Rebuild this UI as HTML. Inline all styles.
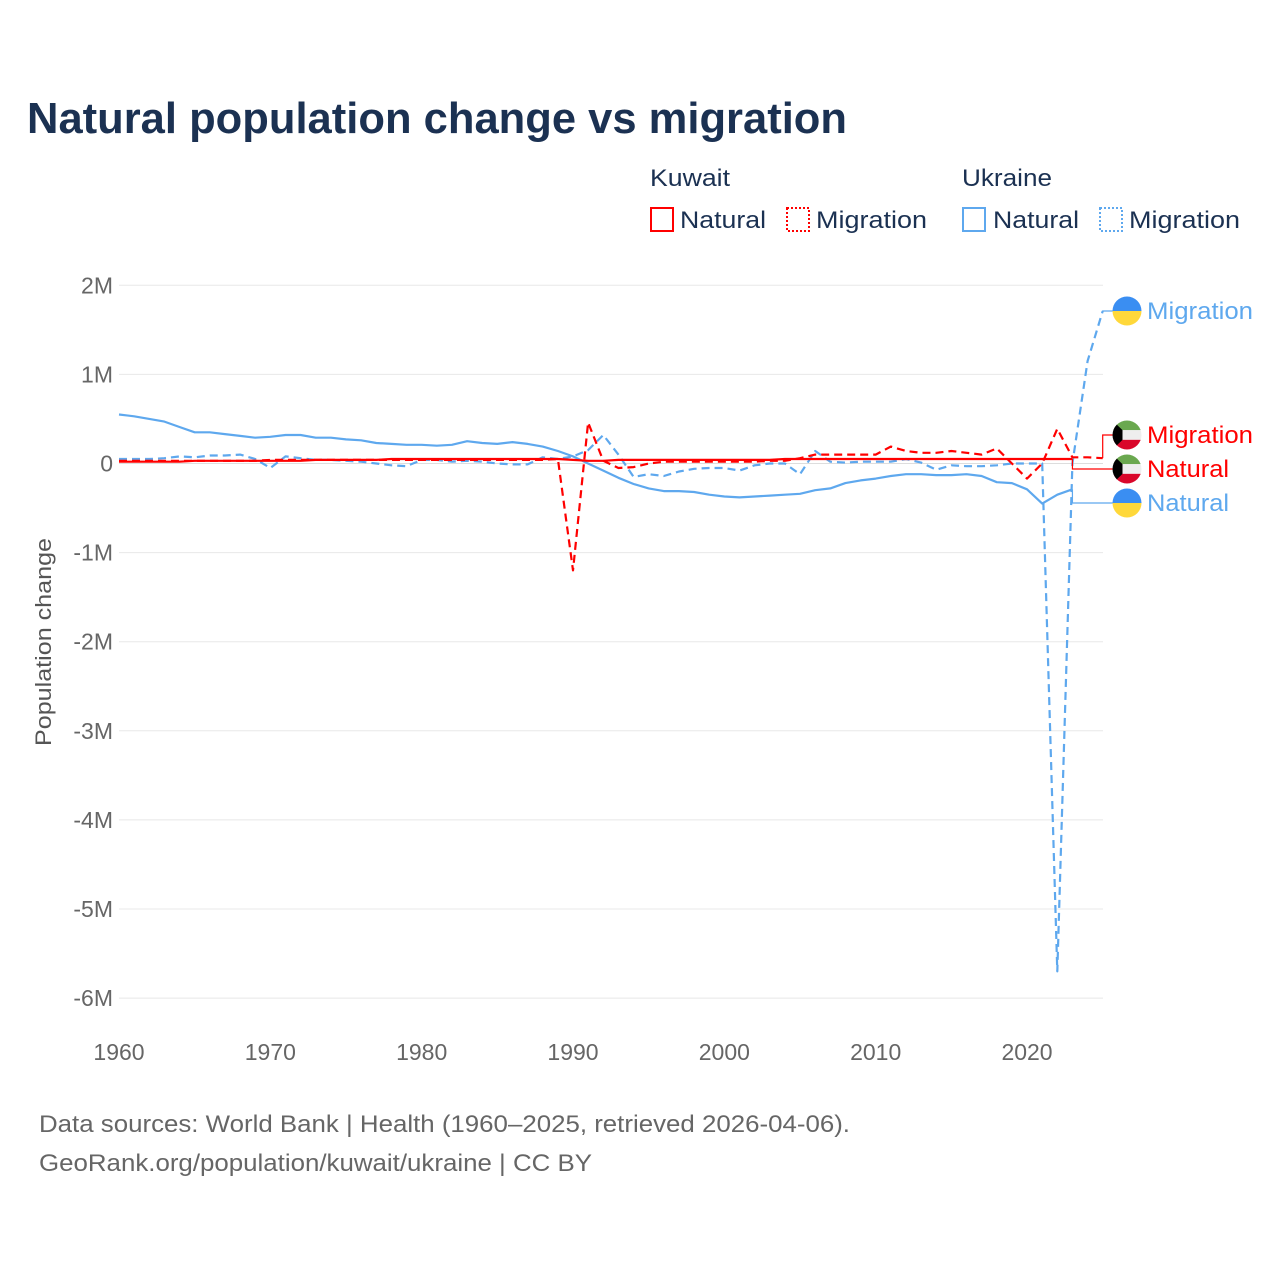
<!DOCTYPE html>
<html><head><meta charset="utf-8">
<style>
body{margin:0;background:#fff;width:1280px;height:1280px;overflow:hidden;font-family:"Liberation Sans",sans-serif;}
svg text{font-family:"Liberation Sans",sans-serif;}
</style></head>
<body>
<svg id="chart" width="1280" height="1280" viewBox="0 0 1280 1280">
<text x="27" y="133" font-size="44" font-weight="bold" fill="#1b3152" textLength="820" lengthAdjust="spacingAndGlyphs">Natural population change vs migration</text>
<g font-size="24" fill="#1b3152">
<text x="650" y="186" fill="#1b3152" textLength="80" lengthAdjust="spacingAndGlyphs">Kuwait</text>
<text x="962" y="186" fill="#1b3152" textLength="90" lengthAdjust="spacingAndGlyphs">Ukraine</text>
<g><rect x="651" y="208" width="22" height="23" fill="none" stroke="#f00" stroke-width="2"/><text x="680" y="228" fill="#1b3152" textLength="86" lengthAdjust="spacingAndGlyphs">Natural</text></g>
<g><rect x="787" y="208" width="22" height="23" fill="none" stroke="#f00" stroke-width="2" stroke-dasharray="2,2"/><text x="816" y="228" fill="#1b3152" textLength="111" lengthAdjust="spacingAndGlyphs">Migration</text></g>
<g><rect x="963" y="208" width="22" height="23" fill="none" stroke="#5ea8ee" stroke-width="2"/><text x="993" y="228" fill="#1b3152" textLength="86" lengthAdjust="spacingAndGlyphs">Natural</text></g>
<g><rect x="1100" y="208" width="22" height="23" fill="none" stroke="#5ea8ee" stroke-width="2" stroke-dasharray="2,2"/><text x="1129" y="228" fill="#1b3152" textLength="111" lengthAdjust="spacingAndGlyphs">Migration</text></g>
</g>
<g id="grid"></g>
<g id="series"></g>
<g id="labels"></g>
<text transform="translate(51,642) rotate(-90)" text-anchor="middle" font-size="22" fill="#555" textLength="208" lengthAdjust="spacingAndGlyphs">Population change</text>
<text x="39" y="1132" font-size="24" fill="#666" textLength="811" lengthAdjust="spacingAndGlyphs">Data sources: World Bank | Health (1960–2025, retrieved 2026-04-06).</text>
<text x="39" y="1171" font-size="24" fill="#666" textLength="553" lengthAdjust="spacingAndGlyphs">GeoRank.org/population/kuwait/ukraine | CC BY</text>
</svg>
<script>
const yTicks=[2,1,0,-1,-2,-3,-4,-5,-6];
const yTickLabels=["2M","1M","0","-1M","-2M","-3M","-4M","-5M","-6M"];
const xTicks=[1960,1970,1980,1990,2000,2010,2020];
const startYear=1960;
const uaNatural=[0.55,0.53,0.50,0.47,0.41,0.35,0.35,0.33,0.31,0.29,0.30,0.32,0.32,0.29,0.29,0.27,0.26,0.23,0.22,0.21,0.21,0.20,0.21,0.25,0.23,0.22,0.24,0.22,0.19,0.14,0.08,0.0,-0.08,-0.16,-0.23,-0.28,-0.31,-0.31,-0.32,-0.35,-0.37,-0.38,-0.37,-0.36,-0.35,-0.34,-0.30,-0.28,-0.22,-0.19,-0.17,-0.14,-0.12,-0.12,-0.13,-0.13,-0.12,-0.14,-0.21,-0.22,-0.29,-0.45,-0.35,-0.29];
const uaMigration=[0.05,0.05,0.05,0.06,0.08,0.07,0.09,0.09,0.10,0.05,-0.05,0.08,0.06,0.04,0.04,0.03,0.02,0.0,-0.02,-0.03,0.04,0.04,0.02,0.03,0.02,0.0,-0.01,-0.01,0.07,0.05,0.08,0.15,0.32,0.10,-0.15,-0.12,-0.14,-0.09,-0.06,-0.05,-0.05,-0.08,-0.02,0.0,0.0,-0.12,0.14,0.02,0.01,0.02,0.02,0.02,0.05,0.01,-0.07,-0.02,-0.03,-0.03,-0.02,0.0,0.0,0.0,-5.7,0.0,1.15,1.71];
const kwNatural=[0.02,0.02,0.02,0.02,0.02,0.03,0.03,0.03,0.03,0.03,0.03,0.03,0.03,0.04,0.04,0.04,0.04,0.04,0.05,0.05,0.05,0.05,0.05,0.05,0.05,0.05,0.05,0.05,0.05,0.05,0.04,0.03,0.03,0.04,0.04,0.04,0.04,0.04,0.04,0.04,0.04,0.04,0.04,0.04,0.05,0.05,0.05,0.05,0.05,0.05,0.05,0.05,0.05,0.05,0.05,0.05,0.05,0.05,0.05,0.05,0.05,0.05,0.05,0.05];
const kwMigration=[0.03,0.03,0.03,0.03,0.03,0.03,0.03,0.03,0.03,0.03,0.04,0.04,0.04,0.04,0.04,0.04,0.04,0.04,0.04,0.04,0.04,0.04,0.04,0.04,0.04,0.04,0.04,0.04,0.04,0.05,-1.2,0.46,0.03,-0.05,-0.04,0.0,0.02,0.02,0.02,0.02,0.02,0.02,0.02,0.03,0.03,0.06,0.10,0.10,0.10,0.10,0.10,0.19,0.14,0.12,0.12,0.14,0.12,0.10,0.17,0.0,-0.17,0.0,0.39,0.07,0.07,0.06];

const NS="http://www.w3.org/2000/svg";
const x=yr=>119+(yr-1960)*(1102.7-119)/65;
const y=v=>463.5-v*89.1;
function mk(tag,attrs,parent){const e=document.createElementNS(NS,tag);for(const k in attrs)e.setAttribute(k,attrs[k]);parent.appendChild(e);return e;}
const grid=document.getElementById('grid');
yTicks.forEach((t,i)=>{
  const l=mk('line',{x1:119,x2:1103,y1:y(t),y2:y(t),stroke:t===0?'#ddd':'#e8e8e8','stroke-width':1},grid);
  
  
  const tx=mk('text',{x:113,y:y(t)+8,'text-anchor':'end','font-size':23,fill:'#666'},grid);
  tx.textContent=yTickLabels[i];
  
  
});
xTicks.forEach(t=>{
  const tx=mk('text',{x:x(t),y:1060,'text-anchor':'middle','font-size':23,fill:'#666'},grid);
  tx.textContent=t;
  
  
});
const series=document.getElementById('series');
function line(arr,color,dash,name){
  const pts=arr.map((v,i)=>x(startYear+i).toFixed(1)+','+y(v).toFixed(1)).join(' ');
  const p=mk('polyline',{points:pts,fill:'none',stroke:color,'stroke-width':2.2,'stroke-linejoin':'round'},series);
  if(dash)p.setAttribute('stroke-dasharray','8,5');
  
  
  return p;
}
line(uaNatural,'#5ea8ee',false,'ukraine-natural-line');
line(uaMigration,'#5ea8ee',true,'ukraine-migration-line');
line(kwMigration,'#f00',true,'kuwait-migration-line');
line(kwNatural,'#f00',false,'kuwait-natural-line');

const labels=document.getElementById('labels');
function endLabel(arr,color,ly,text,flag,name,tl){
  const lx=x(startYear+arr.length-1), lv=y(arr[arr.length-1]);
  mk('polyline',{points:`${lx},${lv} ${lx},${ly} 1113,${ly}`,fill:'none',stroke:color,'stroke-width':1.2},labels);
  const g=mk('g',{},labels);
  
  
  const cx=1127,r=14.5;
  if(flag==='ua'){
    mk('path',{d:`M${cx-r},${ly} A${r},${r} 0 0 1 ${cx+r},${ly} Z`,fill:'#3a8ef2'},g);
    mk('path',{d:`M${cx-r},${ly} A${r},${r} 0 0 0 ${cx+r},${ly} Z`,fill:'#ffd83a'},g);
  } else {
    const id='c'+Math.round(ly);
    const cp=mk('clipPath',{id:id},g);mk('circle',{cx:cx,cy:ly,r:r},cp);
    const gg=mk('g',{'clip-path':`url(#${id})`},g);
    mk('rect',{x:cx-r,y:ly-r,width:2*r,height:r*2/3,fill:'#6aa84f'},gg);
    mk('rect',{x:cx-r,y:ly-r/3,width:2*r,height:r*2/3,fill:'#eee'},gg);
    mk('rect',{x:cx-r,y:ly+r/3,width:2*r,height:r*2/3,fill:'#d9072a'},gg);
    mk('path',{d:`M${cx-r},${ly-r} L${cx-r+10},${ly-r/3} L${cx-r+10},${ly+r/3} L${cx-r},${ly+r} Z`,fill:'#000'},gg);
  }
  const t=mk('text',{x:1147,y:ly+8,'font-size':24,fill:color,textLength:tl,lengthAdjust:'spacingAndGlyphs'},g);
  t.textContent=text;
}
endLabel(uaMigration,'#5ea8ee',311,'Migration','ua','label-ukraine-migration',106);
endLabel(kwMigration,'#f00',435,'Migration','kw','label-kuwait-migration',106);
endLabel(kwNatural,'#f00',469,'Natural','kw','label-kuwait-natural',82);
endLabel(uaNatural,'#5ea8ee',503,'Natural','ua','label-ukraine-natural',82);
</script>
</body></html>
